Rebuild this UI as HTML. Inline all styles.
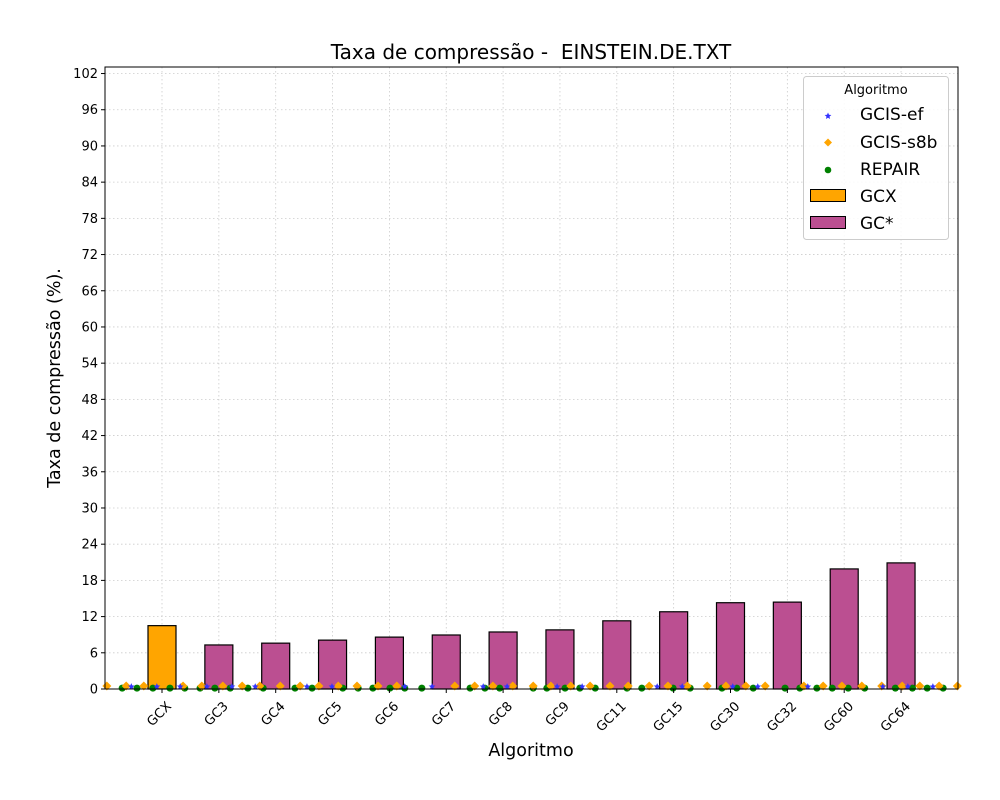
<!DOCTYPE html>
<html><head><meta charset="utf-8"><style>
body{margin:0;background:#fff}
svg{display:block;font-family:"DejaVu Sans","Liberation Sans",sans-serif}
</style></head><body>
<svg id="chart" width="1000" height="800" xmlns="http://www.w3.org/2000/svg">
<rect width="1000" height="800" fill="#fff"/>
<text x="531" y="59" font-size="20" text-anchor="middle">Taxa de compressão -&#160; EINSTEIN.DE.TXT</text>
<text x="531" y="756" font-size="17.5" text-anchor="middle">Algoritmo</text>
<text transform="translate(60,378) rotate(-90)" font-size="17.5" text-anchor="middle">Taxa de compressão (%).</text>
<g id="grid"></g><g id="bars"></g><g id="points"></g><g id="axes"></g>
<g>
<rect x="803.5" y="76.5" width="145" height="163" rx="3" fill="#fff" fill-opacity="0.85" stroke="#ccc"/>
<text x="876" y="94" font-size="13" text-anchor="middle">Algoritmo</text>
<path d="M828,112.5 l1,2.3 2.4,0.2 -1.9,1.6 0.6,2.4 -2.1,-1.3 -2.1,1.3 0.6,-2.4 -1.9,-1.6 2.4,-0.2z" fill="#33f"/>
<text x="860" y="120" font-size="17">GCIS-ef</text>
<path d="M828,138.5 l4,4 -4,4 -4,-4z" fill="orange"/>
<text x="860" y="148" font-size="17">GCIS-s8b</text>
<circle cx="828" cy="170" r="3.3" fill="green"/>
<text x="860" y="175" font-size="17">REPAIR</text>
<rect x="810.5" y="189.5" width="35" height="12" fill="orange" stroke="#000"/>
<text x="860" y="202" font-size="17">GCX</text>
<rect x="810.5" y="216.5" width="35" height="12" fill="#bb4f91" stroke="#000"/>
<text x="860" y="229" font-size="17">GC*</text>
</g>
</svg>
<script>
const categories=["GCX","GC3","GC4","GC5","GC6","GC7","GC8","GC9","GC11","GC15","GC30","GC32","GC60","GC64"];
const barValues=[10.5,7.3,7.6,8.1,8.6,8.95,9.45,9.8,11.3,12.8,14.3,14.4,19.9,20.9];
const yTicks=[0,6,12,18,24,30,36,42,48,54,60,66,72,78,84,90,96,102];
const efX=[-0.54,-0.09,0.32,0.79,1.23,1.64,2.55,2.99,4.27,4.75,5.65,6.07,6.95,7.39,8.71,9.15,10.04,10.48,11.36,12.68,13.12,13.56];
const efY=[0.4,0.4,0.4,0.4,0.4,0.4,0.4,0.4,0.4,0.4,0.4,0.4,0.4,0.4,0.4,0.4,0.4,0.4,0.4,0.4,0.4,0.4];
const s8bX=[-0.97,-0.63,-0.32,0.37,0.7,1.07,1.41,1.72,2.08,2.43,2.76,3.1,3.43,3.8,4.13,5.15,5.5,5.82,6.17,6.53,6.84,7.19,7.53,7.88,8.2,8.57,8.9,9.24,9.59,9.92,10.27,10.61,11.29,11.63,11.96,12.31,12.66,13.02,13.33,13.67,13.99];
const s8bY=[0.5,0.5,0.5,0.5,0.5,0.5,0.5,0.5,0.5,0.5,0.5,0.5,0.5,0.5,0.5,0.5,0.5,0.5,0.5,0.5,0.5,0.5,0.5,0.5,0.5,0.5,0.5,0.5,0.5,0.5,0.5,0.5,0.5,0.5,0.5,0.5,0.5,0.5,0.5,0.5,0.5];
const repairX=[-0.7,-0.44,-0.16,0.14,0.4,0.67,0.93,1.2,1.51,1.78,2.34,2.64,3.18,3.45,3.71,4.01,4.27,4.57,5.42,5.68,5.94,6.53,6.77,7.09,7.35,7.62,8.18,8.44,8.99,9.29,9.85,10.11,10.4,10.96,11.22,11.52,11.79,12.07,12.36,12.9,13.2,13.46,13.74];
const repairY=[0.15,0.15,0.15,0.15,0.15,0.15,0.15,0.15,0.15,0.15,0.15,0.15,0.15,0.15,0.15,0.15,0.15,0.15,0.15,0.15,0.15,0.15,0.15,0.15,0.15,0.15,0.15,0.15,0.15,0.15,0.15,0.15,0.15,0.15,0.15,0.15,0.15,0.15,0.15,0.15,0.15,0.15,0.15];
const NS="http://www.w3.org/2000/svg";
const L=105,R=958,T=67,B=689;
const xs=i=>162+56.85*i;
const ys=v=>689-v*6.034;
function mk(tag,attrs,parent){const e=document.createElementNS(NS,tag);for(const k in attrs)e.setAttribute(k,attrs[k]);document.getElementById(parent).appendChild(e);return e;}
yTicks.forEach(t=>{
 const g=mk('line',{x1:L,x2:R,y1:ys(t),y2:ys(t),stroke:'#ccc','stroke-dasharray':'1.5,2.5','stroke-width':0.8},'grid');
 
 
 mk('line',{x1:L-4,x2:L,y1:ys(t),y2:ys(t),stroke:'#000'},'axes');
 const tx=mk('text',{x:L-7,y:ys(t)+4.5,'font-size':13,'text-anchor':'end'},'axes');
 tx.textContent=t;
 
 
});
categories.forEach((c,i)=>{
 const g=mk('line',{x1:xs(i),x2:xs(i),y1:T,y2:B,stroke:'#ccc','stroke-dasharray':'1.5,2.5','stroke-width':0.8},'grid');
 
 
 const b=mk('rect',{x:xs(i)-14,y:ys(barValues[i]),width:28,height:B-ys(barValues[i]),fill:i==0?'orange':'#bb4f91',stroke:'#000','stroke-width':1.2},'bars');
 
 
 mk('line',{x1:xs(i),x2:xs(i),y1:B,y2:B+4,stroke:'#000'},'axes');
 const tx=mk('text',{transform:`translate(${xs(i)+10},${B+18}) rotate(-45)`,'font-size':13,'text-anchor':'end'},'axes');
 tx.textContent=c;
 
 
});
repairX.forEach((x,i)=>{
 const p=mk('circle',{cx:xs(x),cy:ys(repairY[i]),r:3.5,fill:'green'},'points');
 
 
});
s8bX.forEach((x,i)=>{
 const cx=xs(x),cy=ys(s8bY[i]);
 const p=mk('path',{d:`M${cx},${cy-4.5} l4.5,4.5 -4.5,4.5 -4.5,-4.5z`,fill:'orange'},'points');
 
 
});
efX.forEach((x,i)=>{
 const cx=xs(x),cy=ys(efY[i]);
 const p=mk('path',{d:`M${cx},${cy-3.5} l1,2.3 2.4,0.2 -1.9,1.6 0.6,2.4 -2.1,-1.3 -2.1,1.3 0.6,-2.4 -1.9,-1.6 2.4,-0.2z`,fill:'#33f'},'points');
 
 
});
const f=mk('rect',{x:L,y:T,width:R-L,height:B-T,fill:'none',stroke:'#000','stroke-width':1},'axes');


</script>
</body></html>
